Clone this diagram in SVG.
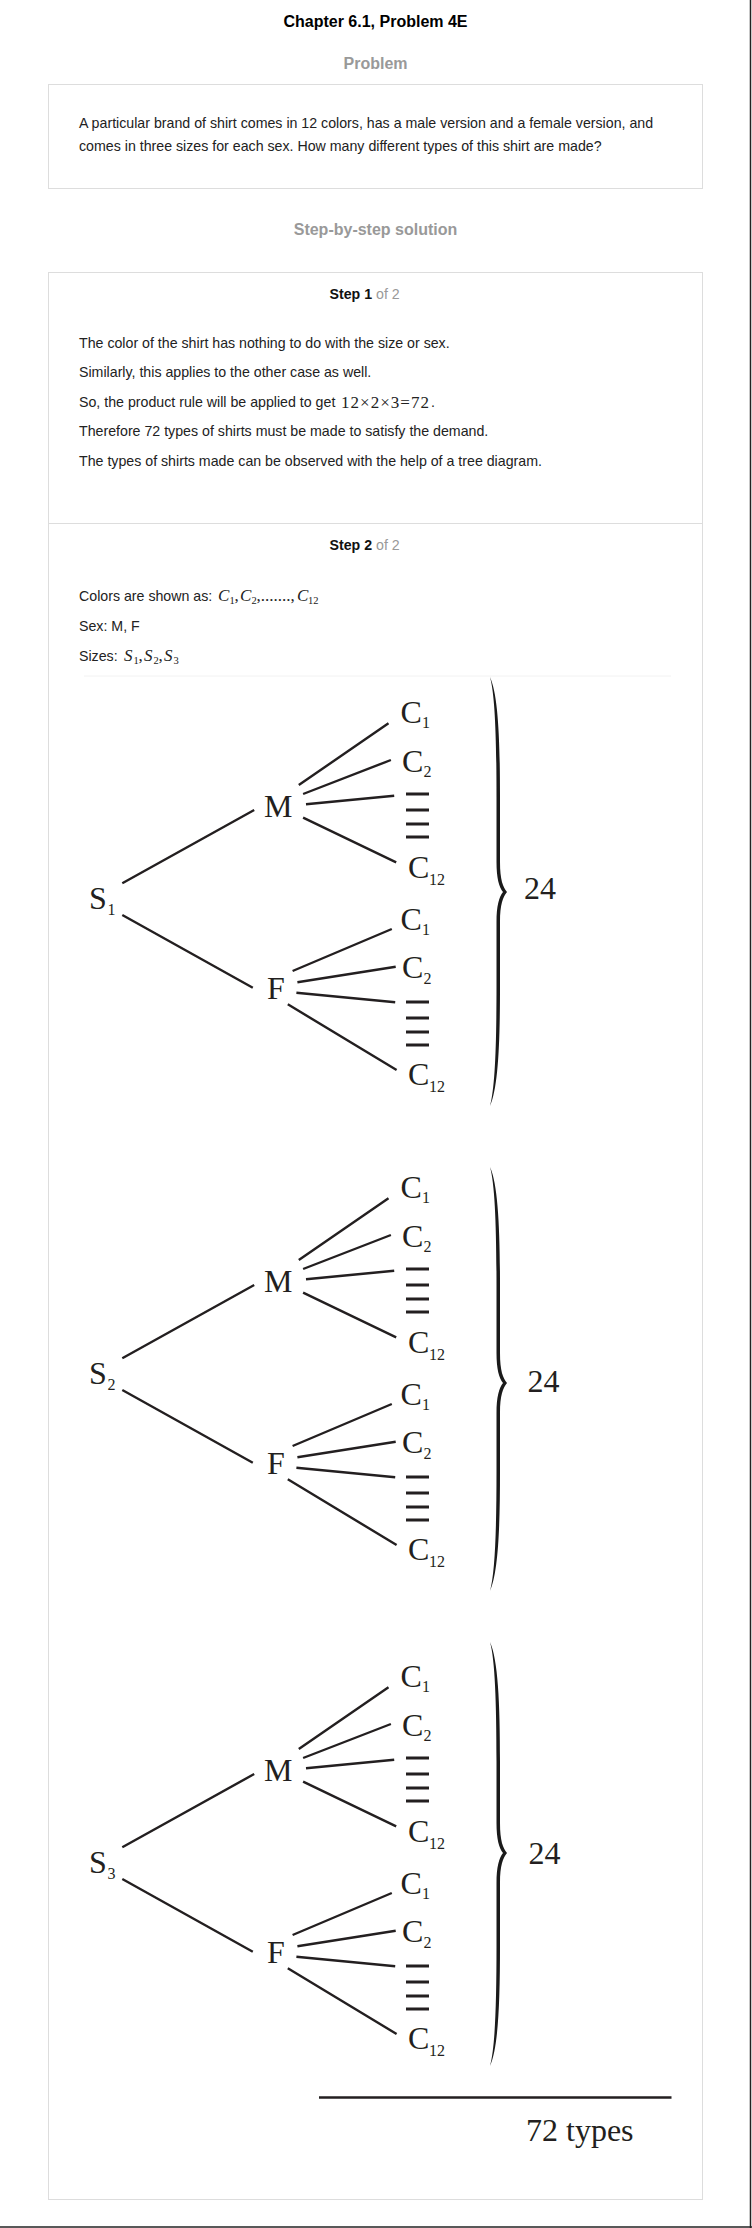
<svg xmlns="http://www.w3.org/2000/svg" width="752" height="2228" viewBox="0 0 752 2228">
<style>
.h{font-family:"Liberation Sans",Arial,sans-serif;font-weight:bold;font-size:16px;text-anchor:middle}
.b{font-family:"Liberation Sans",Arial,sans-serif;font-size:14.2px;fill:#222}
.g{fill:#999}
.bx{fill:none;stroke:#dddddd;stroke-width:1}
.m{font-family:"Liberation Serif","Times New Roman",serif;font-size:17px;fill:#222}
.mi{font-style:italic}
.ms{font-size:10.5px;font-style:normal}
.t{font-family:"Liberation Serif","Times New Roman",serif;font-size:32px;fill:#231f20}
.s{font-family:"Liberation Serif","Times New Roman",serif;font-size:16px;fill:#231f20}
.n{font-family:"Liberation Serif","Times New Roman",serif;font-size:32px;fill:#231f20}
.ln{stroke:#231f20;stroke-width:2.4;fill:none}
.d{fill:#231f20}
.br{fill:#1a1a1a}
</style>
<defs>
<g id="dots"><rect x="406" y="-1.5" width="23" height="3"/><rect x="406" y="14.5" width="23" height="3"/><rect x="406" y="28.5" width="23" height="3"/><rect x="406" y="41.5" width="23" height="3"/></g>
</defs>
<rect width="752" height="2228" fill="#ffffff"/>
<line x1="750.5" y1="0" x2="750.5" y2="2228" stroke="#222" stroke-width="1.5"/>
<line x1="0" y1="2227" x2="752" y2="2227" stroke="#222" stroke-width="1.5"/>

<g id="title"><text class="h" x="375.5" y="27" fill="#000">Chapter 6.1, Problem 4E</text></g>
<g id="problem-heading"><text class="h g" x="375.5" y="69">Problem</text></g>
<g id="problem-box">
<rect class="bx" x="48.5" y="84.5" width="654" height="104"/>
<text class="b" x="79" y="128">A particular brand of shirt comes in 12 colors, has a male version and a female version, and</text>
<text class="b" x="79" y="151">comes in three sizes for each sex. How many different types of this shirt are made?</text>
</g>
<g id="solution-heading"><text class="h g" x="375.5" y="235">Step-by-step solution</text></g>

<g id="steps-box">
<rect class="bx" x="48.5" y="272.5" width="654" height="1927"/>
<line class="bx" x1="48.5" y1="523.5" x2="702.5" y2="523.5"/>
</g>

<g id="step1">
<text class="b" x="329.5" y="299"><tspan font-weight="bold" fill="#111">Step 1</tspan><tspan class="g"> of 2</tspan></text>
<text class="b" x="79" y="348">The color of the shirt has nothing to do with the size or sex.</text>
<text class="b" x="79" y="377">Similarly, this applies to the other case as well.</text>
<text class="b" x="79" y="407">So, the product rule will be applied to get </text>
<text class="m" x="341" y="408" textLength="88" lengthAdjust="spacing">12×2×3=72</text>
<text class="b" x="431" y="407">.</text>
<text class="b" x="79" y="436">Therefore 72 types of shirts must be made to satisfy the demand.</text>
<text class="b" x="79" y="466">The types of shirts made can be observed with the help of a tree diagram.</text>
</g>

<g id="step2">
<text class="b" x="329.5" y="550"><tspan font-weight="bold" fill="#111">Step 2</tspan><tspan class="g"> of 2</tspan></text>
<text class="b" x="79" y="601">Colors are shown as: </text>
<text class="m" y="601"><tspan class="mi" x="218">C</tspan><tspan class="ms" x="229.5" dy="3">1</tspan><tspan x="234.5" dy="-3">,</tspan><tspan class="mi" x="240">C</tspan><tspan class="ms" x="251.5" dy="3">2</tspan><tspan x="256.5" dy="-3">,.......,</tspan><tspan class="mi" x="297">C</tspan><tspan class="ms" x="308" dy="3">12</tspan></text>
<text class="b" x="79" y="631">Sex: M, F</text>
<text class="b" x="79" y="661">Sizes: </text>
<text class="m" y="661"><tspan class="mi" x="124">S</tspan><tspan class="ms" x="133.5" dy="3">1</tspan><tspan x="138.5" dy="-3">,</tspan><tspan class="mi" x="144">S</tspan><tspan class="ms" x="153.5" dy="3">2</tspan><tspan x="158.5" dy="-3">,</tspan><tspan class="mi" x="164">S</tspan><tspan class="ms" x="173.5" dy="3">3</tspan></text>
<line x1="84" y1="676" x2="671" y2="676" stroke="#f2f2f2" stroke-width="1"/>
</g>

<!-- Tree 1 -->
<g id="tree1">
<g id="t1-connectors">
<path class="ln" d="M122.3,883.3L254.2,810M122.3,915L252.8,987.7M298.8,785L388.5,723.3M303.1,794L390.9,760M306,804.3L394.2,795.7M303.1,817.7L396.2,862.3M292.6,971L391.8,929M297.4,982.3L395.7,966.7M296.4,992.7L395.2,1002.3M287.8,1004.3L396.6,1070"/>
</g>
<g id="t1-S"><text class="t" x="89" y="909">S</text><text class="s" x="107.5" y="915">1</text></g>
<g id="t1-M"><text class="t" x="264" y="817">M</text></g>
<g id="t1-F"><text class="t" x="267" y="999">F</text></g>
<g id="t1-M-C1"><text class="t" x="400.5" y="723">C</text><text class="s" x="422" y="728">1</text></g>
<g id="t1-M-C2"><text class="t" x="402" y="772">C</text><text class="s" x="423.5" y="777">2</text></g>
<g id="t1-M-dots" class="d" transform="translate(0,794)"><use href="#dots"/></g>
<g id="t1-M-C12"><text class="t" x="408" y="878">C</text><text class="s" x="429" y="885">12</text></g>
<g id="t1-F-C1"><text class="t" x="400.5" y="930">C</text><text class="s" x="422" y="935">1</text></g>
<g id="t1-F-C2"><text class="t" x="402" y="978">C</text><text class="s" x="423.5" y="984">2</text></g>
<g id="t1-F-dots" class="d" transform="translate(0,1002)"><use href="#dots"/></g>
<g id="t1-F-C12"><text class="t" x="408" y="1085">C</text><text class="s" x="429" y="1092">12</text></g>
<g id="t1-brace"><path class="br" d="M490,677 C498,695 500,737 500,797 L500,862 C500,880 503,887 507,892 C503,897 500,904 500,922 L500,986 C500,1046 498,1088 490,1106 C495,1088 496.5,1046 496.5,986 L496.5,922 C496.5,906 499,897 503,892 C499,887 496.5,878 496.5,862 L496.5,797 C496.5,737 495,695 490,677 Z"/></g>
<g id="t1-total"><text class="n" x="524" y="899">24</text></g>
</g>

<!-- Tree 2 -->
<g id="tree2">
<g id="t2-connectors" transform="translate(0,475)">
<path class="ln" d="M122.3,883.3L254.2,810M122.3,915L252.8,987.7M298.8,785L388.5,723.3M303.1,794L390.9,760M306,804.3L394.2,795.7M303.1,817.7L396.2,862.3M292.6,971L391.8,929M297.4,982.3L395.7,966.7M296.4,992.7L395.2,1002.3M287.8,1004.3L396.6,1070"/>
</g>
<g transform="translate(0,475)">
<g id="t2-S"><text class="t" x="89" y="909">S</text><text class="s" x="107.5" y="915">2</text></g>
<g id="t2-M"><text class="t" x="264" y="817">M</text></g>
<g id="t2-F"><text class="t" x="267" y="999">F</text></g>
<g id="t2-M-C1"><text class="t" x="400.5" y="723">C</text><text class="s" x="422" y="728">1</text></g>
<g id="t2-M-C2"><text class="t" x="402" y="772">C</text><text class="s" x="423.5" y="777">2</text></g>
<g id="t2-M-dots" class="d" transform="translate(0,794)"><use href="#dots"/></g>
<g id="t2-M-C12"><text class="t" x="408" y="878">C</text><text class="s" x="429" y="885">12</text></g>
<g id="t2-F-C1"><text class="t" x="400.5" y="930">C</text><text class="s" x="422" y="935">1</text></g>
<g id="t2-F-C2"><text class="t" x="402" y="978">C</text><text class="s" x="423.5" y="984">2</text></g>
<g id="t2-F-dots" class="d" transform="translate(0,1002)"><use href="#dots"/></g>
<g id="t2-F-C12"><text class="t" x="408" y="1085">C</text><text class="s" x="429" y="1092">12</text></g>
</g>
<g id="t2-brace"><path class="br" d="M490,1167 C498,1185 500,1227 500,1287 L500,1353 C500,1371 503,1378 507,1383 C503,1388 500,1395 500,1413 L500,1471 C500,1531 498,1573 490,1591 C495,1573 496.5,1531 496.5,1471 L496.5,1413 C496.5,1397 499,1388 503,1383 C499,1378 496.5,1369 496.5,1353 L496.5,1287 C496.5,1227 495,1185 490,1167 Z"/></g>
<g id="t2-total"><text class="n" x="527.5" y="1392">24</text></g>
</g>

<!-- Tree 3 -->
<g id="tree3">
<g id="t3-connectors" transform="translate(0,964)">
<path class="ln" d="M122.3,883.3L254.2,810M122.3,915L252.8,987.7M298.8,785L388.5,723.3M303.1,794L390.9,760M306,804.3L394.2,795.7M303.1,817.7L396.2,862.3M292.6,971L391.8,929M297.4,982.3L395.7,966.7M296.4,992.7L395.2,1002.3M287.8,1004.3L396.6,1070"/>
</g>
<g transform="translate(0,964)">
<g id="t3-S"><text class="t" x="89" y="909">S</text><text class="s" x="107.5" y="915">3</text></g>
<g id="t3-M"><text class="t" x="264" y="817">M</text></g>
<g id="t3-F"><text class="t" x="267" y="999">F</text></g>
<g id="t3-M-C1"><text class="t" x="400.5" y="723">C</text><text class="s" x="422" y="728">1</text></g>
<g id="t3-M-C2"><text class="t" x="402" y="772">C</text><text class="s" x="423.5" y="777">2</text></g>
<g id="t3-M-dots" class="d" transform="translate(0,794)"><use href="#dots"/></g>
<g id="t3-M-C12"><text class="t" x="408" y="878">C</text><text class="s" x="429" y="885">12</text></g>
<g id="t3-F-C1"><text class="t" x="400.5" y="930">C</text><text class="s" x="422" y="935">1</text></g>
<g id="t3-F-C2"><text class="t" x="402" y="978">C</text><text class="s" x="423.5" y="984">2</text></g>
<g id="t3-F-dots" class="d" transform="translate(0,1002)"><use href="#dots"/></g>
<g id="t3-F-C12"><text class="t" x="408" y="1085">C</text><text class="s" x="429" y="1092">12</text></g>
</g>
<g id="t3-brace"><path class="br" d="M490,1642 C498,1660 500,1702 500,1762 L500,1823 C500,1841 503,1848 507,1853 C503,1858 500,1865 500,1883 L500,1946 C500,2006 498,2048 490,2066 C495,2048 496.5,2006 496.5,1946 L496.5,1883 C496.5,1867 499,1858 503,1853 C499,1848 496.5,1839 496.5,1823 L496.5,1762 C496.5,1702 495,1660 490,1642 Z"/></g>
<g id="t3-total"><text class="n" x="528.5" y="1864">24</text></g>
</g>

<g id="grand-total">
<line x1="319" y1="2097.5" x2="671.5" y2="2097.5" stroke="#231f20" stroke-width="2.5"/>
<text class="n" x="526" y="2141">72 types</text>
</g>
</svg>
